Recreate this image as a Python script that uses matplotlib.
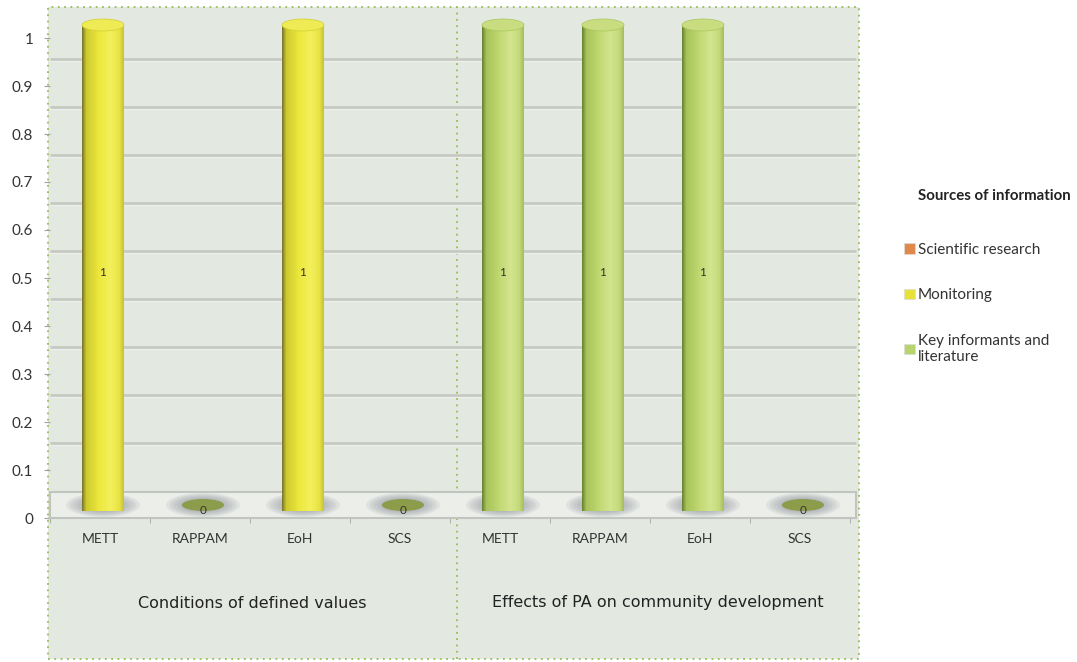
import numpy as np
import matplotlib.pyplot as plt
from matplotlib.patches import Rectangle, Ellipse, PathPatch, Patch
from matplotlib.path import Path
from matplotlib.colors import LinearSegmentedColormap
from matplotlib.lines import Line2D
from matplotlib.transforms import offset_copy

plt.rcParams['font.family'] = ['Lato', 'DejaVu Sans']

# data
groups = ['Conditions of defined values', 'Effects of PA on community development']
tools = ['METT', 'RAPPAM', 'EoH', 'SCS']
sources = ['Scientific research', 'Monitoring', 'Key informants and\nliterature']
monitoring = [1, 0, 1, 0]          # first group
key_informants = [1, 1, 1, 0]      # second group

legend_colors = ['#e0894c', '#e6e23a', '#b8d46e']
yellow_grad = [(0, '#7c7b2c'), (0.1, '#cdc92e'), (0.4, '#ece83c'),
               (0.7, '#f3ef5c'), (0.9, '#e6e240'), (1, '#c8c43c')]
green_grad = [(0, '#6c8636'), (0.1, '#a6c258'), (0.4, '#c0d870'),
              (0.7, '#d2e48e'), (0.9, '#c2d878'), (1, '#a8be62')]
yellow_top = '#efeb55'
green_top = '#c9dd80'
zero_color = '#8c9c4a'
bg = '#e3e8e1'
border = '#9bbb59'

fig = plt.figure(figsize=(10.77, 6.62), dpi=100)

# plot area background with dotted frame
fig.patches.append(Rectangle((48 / 1077, 3 / 662), 811 / 1077, 652 / 662,
                             transform=fig.transFigure, facecolor=bg,
                             edgecolor=border, lw=1.3, ls=(0, (1, 2.5)), zorder=-2))
fig.lines.append(Line2D([457 / 1077, 457 / 1077], [3 / 662, 655 / 662],
                        transform=fig.transFigure, color=border, lw=1.3,
                        ls=(0, (1, 2.5)), zorder=-1))

ax = fig.add_axes([50 / 1077, 144 / 662, 800 / 1077, 510 / 662])
ax.set_zorder(3)
ax.set_facecolor('none')
ax.set_xlim(-0.5, 7.5)
ax.set_ylim(0, 1.0625)
for s in ax.spines.values():
    s.set_visible(False)

# depth offsets for the pseudo 3-D look
back = offset_copy(ax.transData, fig=fig, x=6, y=27, units='dots')
mid = offset_copy(ax.transData, fig=fig, x=3, y=13, units='dots')

# back wall gridlines
for t in np.arange(0.1, 0.95, 0.1):
    ax.plot([-0.56, 7.5], [t, t], transform=back, color='#c6cac2', lw=2.0,
            clip_on=False, zorder=1, solid_capstyle='butt')
    ax.plot([-0.56, 7.5], [t, t], transform=offset_copy(back, fig=fig, y=-2, units='dots'),
            color='#eef0ec', lw=0.8, clip_on=False, zorder=1)

# floor slab
floor_depth = 26 / 480
ax.add_patch(Rectangle((-0.5, 0), 8.06, floor_depth, facecolor='#eceeea',
                       edgecolor='#c2c5bf', lw=1.5, clip_on=False, zorder=2))

w = 0.42
eh = 6 / 480


def shadow(x):
    for k in range(8):
        f = 1 - k / 10
        ax.add_patch(Ellipse((x, 0), 0.74 * f, 24 / 480 * f, transform=mid,
                             facecolor='#80868f', edgecolor='none', alpha=0.12,
                             clip_on=False, zorder=3))


def cylinder(x, v, grad, top):
    cmap = LinearSegmentedColormap.from_list('cyl', grad)
    t = np.linspace(np.pi, 2 * np.pi, 30)
    verts = [(x - w / 2, v)]
    verts += list(zip(x + w / 2 * np.cos(t), eh * np.sin(t)))
    verts += [(x + w / 2, v), (x - w / 2, v)]
    body = PathPatch(Path(verts), facecolor='none', edgecolor='none',
                     transform=mid, clip_on=False)
    ax.add_patch(body)
    n = 40
    for k in range(n):
        r = Rectangle((x - w / 2 + w * k / n, -eh), w / n * 1.05, v + eh,
                      facecolor=cmap(k / (n - 1)), edgecolor='none',
                      transform=mid, zorder=4, clip_on=False)
        ax.add_patch(r)
        r.set_clip_path(body)
    ax.add_patch(Ellipse((x, v), w, 2 * eh, transform=mid, facecolor=top,
                         edgecolor=cmap(0.15), lw=0.5, zorder=5, clip_on=False))


label_tr = offset_copy(ax.transData, fig=fig, x=3, y=6, units='dots')
for g, (vals, grad, top) in enumerate([(monitoring, yellow_grad, yellow_top),
                                        (key_informants, green_grad, green_top)]):
    for i, v in enumerate(vals):
        x = 4 * g + i
        shadow(x)
        if v > 0:
            cylinder(x, v, grad, top)
        else:
            ax.add_patch(Ellipse((x, 0), w, 2 * eh, transform=mid,
                                 facecolor=zero_color, edgecolor='none',
                                 zorder=5, clip_on=False))
        ax.text(x, v / 2 if v else 0.003, str(v), transform=label_tr, ha='center',
                va='center', fontsize=8.5, color='#333333', zorder=6)

# axes ticks and labels
ax.set_xticks(range(8))
ax.set_xticklabels(tools * 2)
ax.set_xticks(np.arange(-0.5, 8, 1), minor=True)
ax.tick_params(axis='x', which='major', length=0, pad=11, labelsize=10,
               labelcolor='#333333')
ax.tick_params(axis='x', which='minor', length=3.5, color='#a0a3a0')
ax.set_yticks(np.arange(0, 1.01, 0.1))
ax.set_yticklabels(['0'] + [f'{v:.1f}' for v in np.arange(0.1, 0.95, 0.1)] + ['1'])
ax.tick_params(axis='y', length=4, color='#a0a3a0', pad=8, labelsize=11,
               labelcolor='#333333')

for g, name in enumerate(groups):
    ax.annotate(name, xy=(4 * g + 1.5, 0), xycoords=('data', 'axes fraction'),
                xytext=(2 + 6 * g, -85), textcoords='offset pixels', ha='center',
                va='center', fontsize=11.5, color='#222222',
                family=['Liberation Sans Narrow', 'DejaVu Sans'])

# legend
fig.text(918 / 1077, 1 - 196 / 662, 'Sources of information', ha='left',
         va='center', fontsize=10.8, weight='bold', color='#222222')
handles = [Patch(facecolor=c, edgecolor='#dddddd', lw=0.5) for c in legend_colors]
fig.legend(handles, sources, loc='upper left', bbox_to_anchor=(904 / 1077, 1 - 243 / 662),
           frameon=False, fontsize=11, handlelength=0.7, handleheight=0.7,
           handletextpad=0.2, labelspacing=2.05, borderaxespad=0, borderpad=0,
           labelcolor='#333333')

fig.savefig('out.png', dpi=100)
